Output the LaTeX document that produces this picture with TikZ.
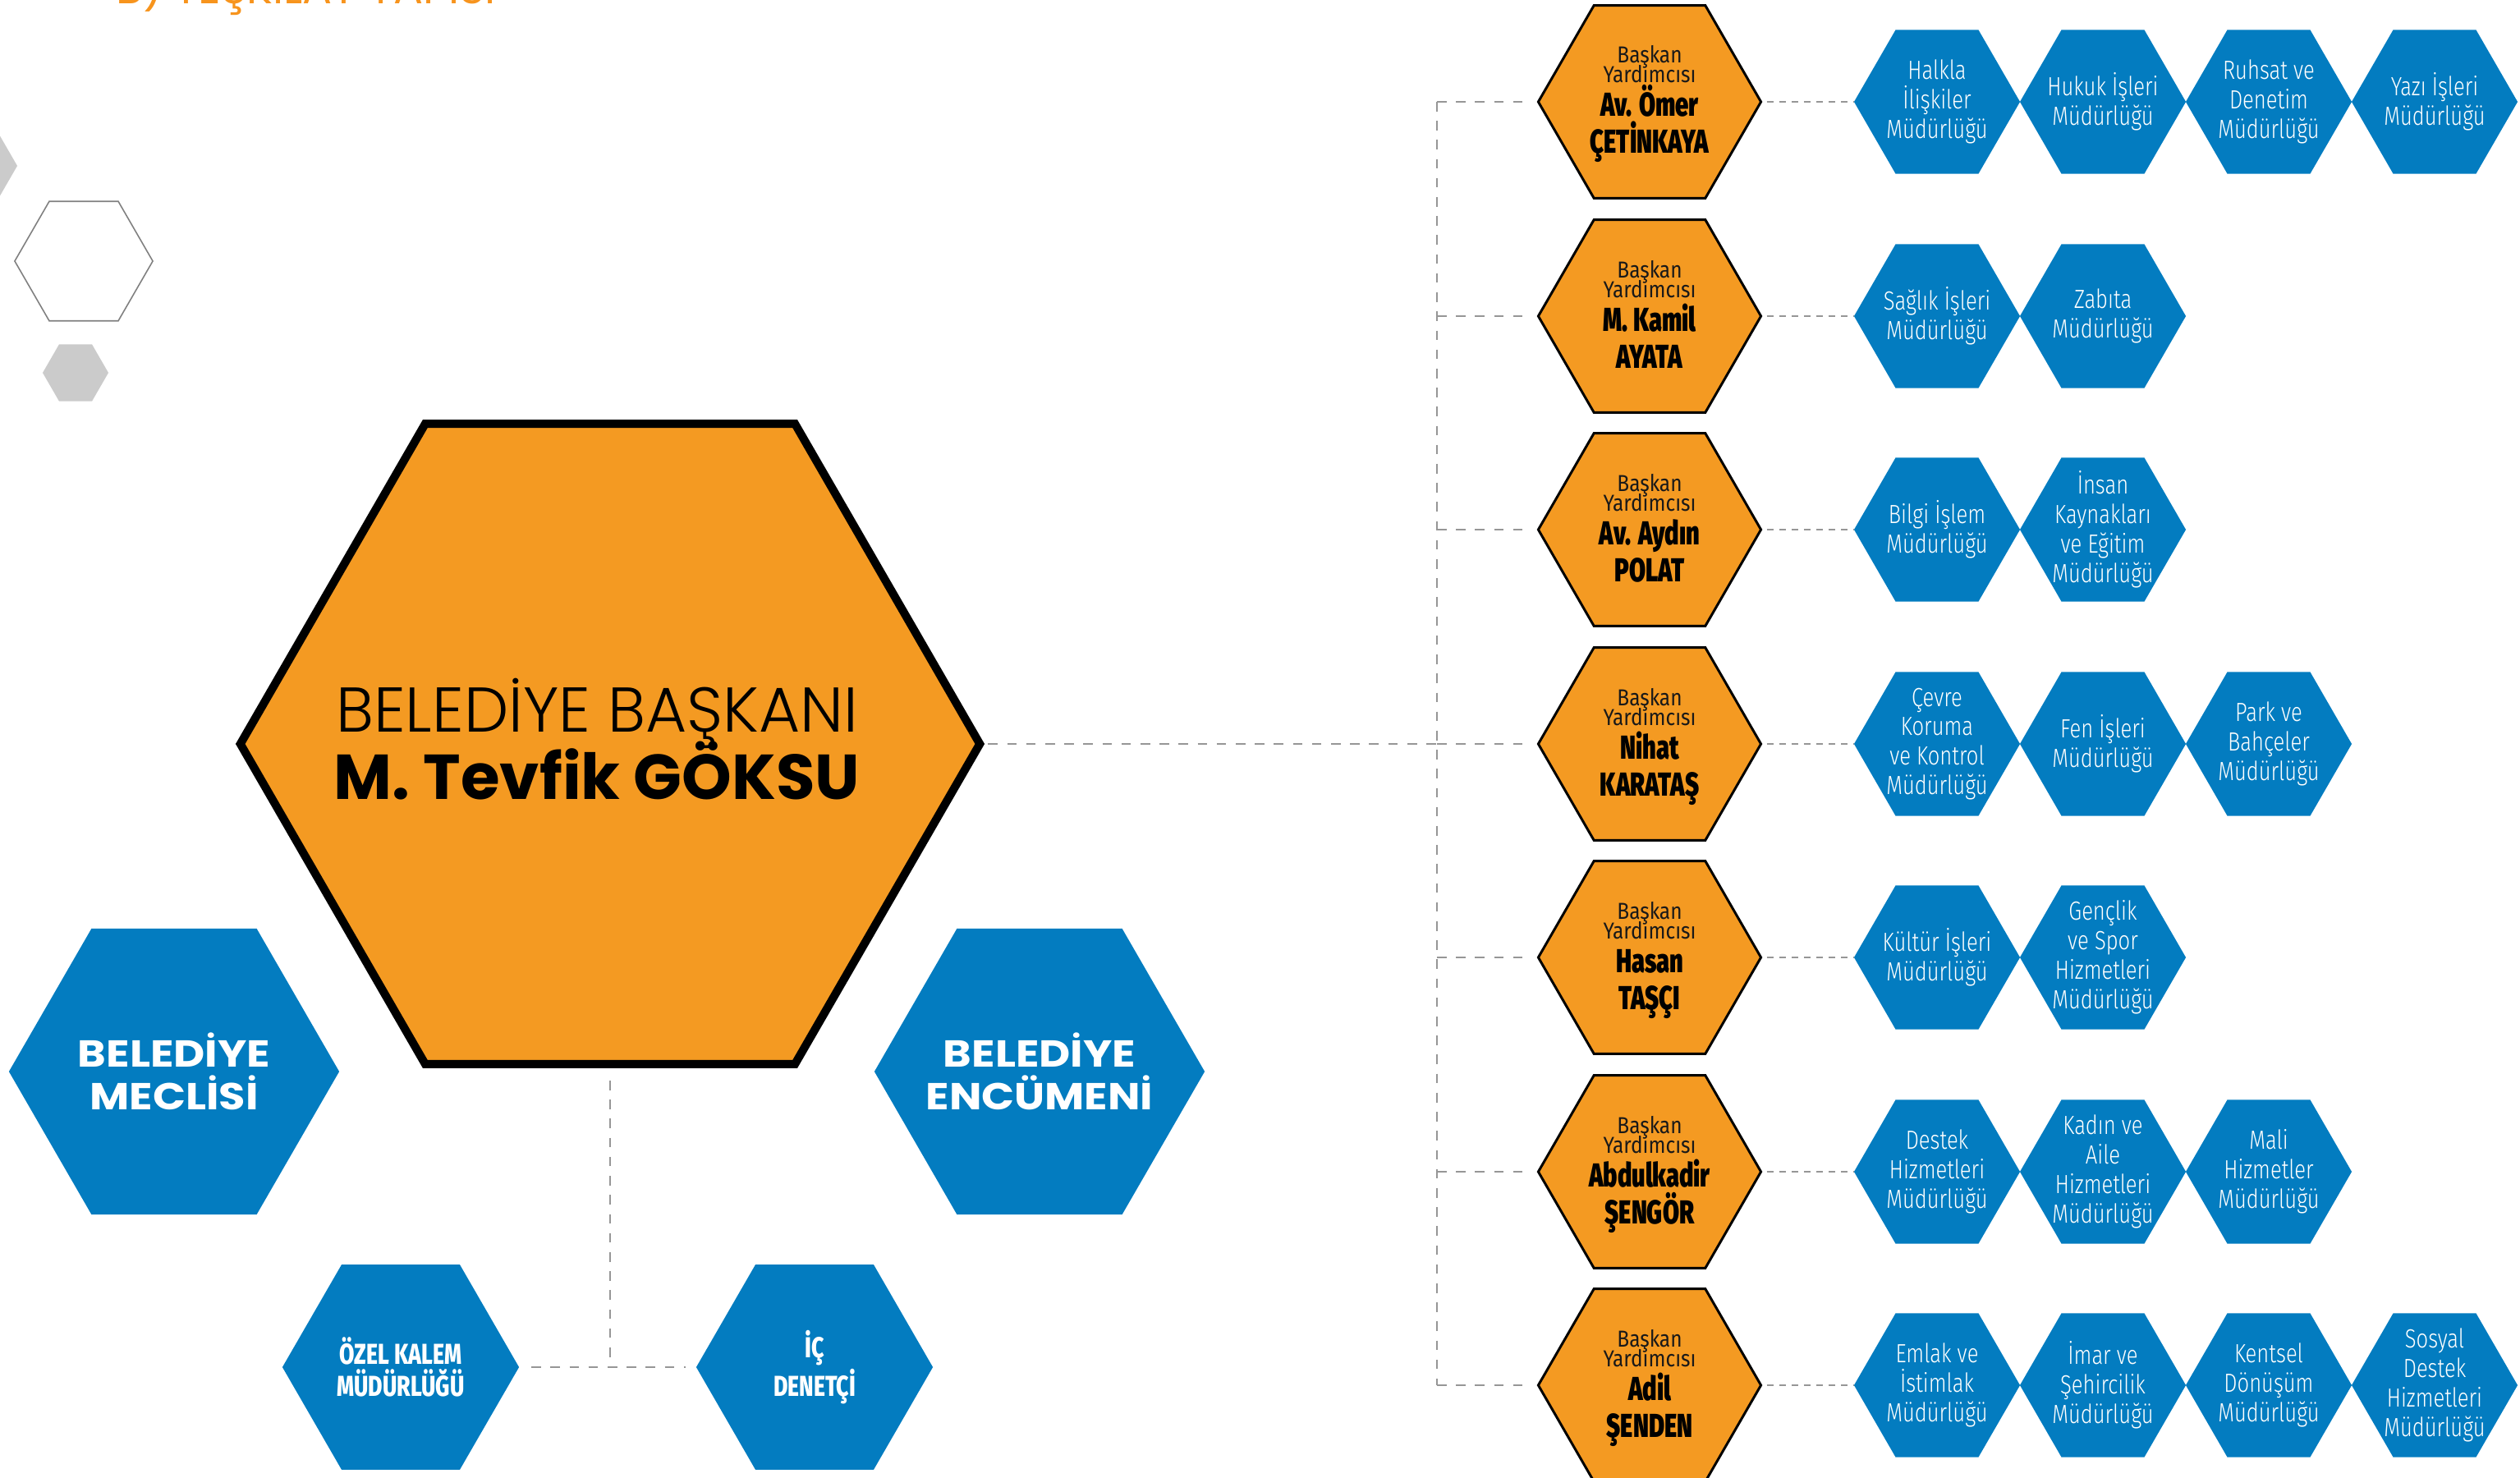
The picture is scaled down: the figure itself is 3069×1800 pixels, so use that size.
\documentclass[tikz,border=0pt]{standalone}
\usepackage{fontspec}
\usepackage{graphicx}
\usetikzlibrary{shapes.geometric}
\setmainfont{Fira Sans}
\newfontfamily\popfont{Poppins}
\newfontfamily\popwide{Poppins}[FakeStretch=1.15]
\IfFontExistsTF{Poppins Light}{\newfontfamily\poplight{Poppins Light}}{\newfontfamily\poplight{Poppins}}
\IfFontExistsTF{Fira Sans Light}{\newfontfamily\deptfont{Fira Sans Light}[FakeStretch=0.8]}{\newfontfamily\deptfont{Fira Sans}[FakeStretch=0.8]}
\IfFontExistsTF{Fira Sans Black}{\newfontfamily\namefont{Fira Sans Black}[FakeStretch=0.72]}{%
  \IfFontExistsTF{Fira Sans ExtraBold}{\newfontfamily\namefont{Fira Sans ExtraBold}[FakeStretch=0.74]}{\newfontfamily\namefont{Fira Sans Bold}[FakeStretch=0.74]}}
\IfFontExistsTF{Fira Sans ExtraBold}{\newfontfamily\kalemfont{Fira Sans ExtraBold}[FakeStretch=0.76]}{\newfontfamily\kalemfont{Fira Sans Bold}[FakeStretch=0.78]}
\newfontfamily\smallfont{Fira Sans}[FakeStretch=0.87]
\definecolor{vorange}{RGB}{244,154,34}
\definecolor{dblue}{RGB}{3,124,192}
\definecolor{dashgray}{RGB}{150,150,150}
\definecolor{decofill}{RGB}{203,203,203}
\definecolor{decoline}{RGB}{128,128,128}
\definecolor{titleorange}{RGB}{247,148,29}
\newcommand\vicehexnode[4]{%
  \node[vicehex] (#1) at (2009,#2) {};
  \node[vsmall] at (2009,{#2-47}) {Başkan};
  \node[vsmall] at (2009,{#2-23}) {Yardımcısı};
  \node[vname] at (2009,{#2+18}) {#3};
  \node[vname] at (2009,{#2+63}) {#4};
}
\newcommand\deptnode[4]{%
  \node[depthex] (#1) at (#2,#3) {};
  \node[depttext] at (#1) {#4};
}
\begin{document}
\begin{tikzpicture}[x=0.01cm,y=-0.01cm,
  hexa/.style={regular polygon, regular polygon sides=6, inner sep=0pt, outer sep=0pt},
  mayorhex/.style={hexa, minimum size=9cm, fill=vorange, draw=black, line width=2.85pt},
  vicehex/.style={hexa, minimum size=2.71cm, fill=vorange, draw=black, line width=0.85pt},
  depthex/.style={hexa, minimum size=2.02cm, fill=dblue},
  bluehex/.style={hexa, fill=dblue},
  depttext/.style={text=white, align=center, inner sep=0pt, font=\deptfont\fontsize{9.1pt}{10.2pt}\selectfont},
  vsmall/.style={anchor=base, inner sep=0pt, text=black!90, font=\smallfont\fontsize{8pt}{8pt}\selectfont},
  vname/.style={anchor=base, inner sep=0pt, text=black, font=\namefont\fontsize{11.5pt}{11.5pt}\selectfont},
  bigbluetext/.style={text=white, align=center, inner sep=0pt, font=\popwide\bfseries\fontsize{13pt}{14.8pt}\selectfont},
  smallbluetext/.style={text=white, align=center, inner sep=0pt, font=\kalemfont\fontsize{10pt}{11.1pt}\selectfont},
  trunkline/.style={draw=dashgray, line width=0.57pt, dash pattern=on 3.3pt off 3.3pt},
  deptline/.style={draw=dashgray, line width=0.57pt, dash pattern=on 2.3pt off 2pt},
]
\useasboundingbox (0,0) rectangle (3069,1800);
\clip (0,0) rectangle (3069,1800);

% decorative hexagons
\node[hexa, minimum size=1.68cm, draw=decoline, line width=0.45pt] (deco1) at (102,318) {};
\node[hexa, minimum size=0.8cm, fill=decofill] (deco2) at (92,454) {};
\node[hexa, minimum size=1.0cm, fill=decofill] (deco3) at (-29,202) {};

% title (cut off at top, as in the reference)
\node[anchor=base west, inner sep=0pt, text=titleorange] (title) at (141,5) {\resizebox{4.62cm}{!}{\popfont B) TEŞKİLAT YAPISI}};

% mayor
\node[mayorhex] (mayor) at (743,906) {};
\node[anchor=base, inner sep=0pt] (mayorT1) at (727,891) {\resizebox{6.35cm}{!}{\poplight BELEDİYE BAŞKANI}};
\node[anchor=base, inner sep=0pt] (mayorT2) at (727,973) {\resizebox{6.4cm}{!}{\popfont\bfseries M. Tevfik GÖKSU}};

% council hexes
\node[bluehex, minimum size=4.02cm] (meclis) at (212,1305) {};
\node[bigbluetext] at (meclis) {BELEDİYE\\MECLİSİ};
\node[bluehex, minimum size=4.02cm] (encumen) at (1266,1305) {};
\node[bigbluetext] at (encumen) {BELEDİYE\\ENCÜMENİ};
\node[bluehex, minimum size=2.88cm] (ozel) at (488,1665) {};
\node[smallbluetext] at (ozel) {ÖZEL KALEM\\MÜDÜRLÜĞÜ};
\node[bluehex, minimum size=2.88cm] (ic) at (992,1665) {};
\node[smallbluetext] at (ic) {İÇ\\DENETÇİ};

% vice mayors
\vicehexnode{v1}{124}{Av. Ömer}{ÇETİNKAYA}
\vicehexnode{v2}{385}{M. Kamil}{AYATA}
\vicehexnode{v3}{645}{Av. Aydın}{POLAT}
\vicehexnode{v4}{906}{Nihat}{KARATAŞ}
\vicehexnode{v5}{1166}{Hasan}{TAŞÇI}
\vicehexnode{v6}{1427}{Abdulkadir}{ŞENGÖR}
\vicehexnode{v7}{1687}{Adil}{ŞENDEN}

% departments
\deptnode{d11}{2359}{124}{Halkla\\İlişkiler\\Müdürlüğü}
\deptnode{d12}{2561}{124}{Hukuk İşleri\\Müdürlüğü}
\deptnode{d13}{2763}{124}{Ruhsat ve\\Denetim\\Müdürlüğü}
\deptnode{d14}{2965}{124}{Yazı İşleri\\Müdürlüğü}
\deptnode{d21}{2359}{385}{Sağlık İşleri\\Müdürlüğü}
\deptnode{d22}{2561}{385}{Zabıta\\Müdürlüğü}
\deptnode{d31}{2359}{645}{Bilgi İşlem\\Müdürlüğü}
\deptnode{d32}{2561}{645}{İnsan\\Kaynakları\\ve Eğitim\\Müdürlüğü}
\deptnode{d41}{2359}{906}{Çevre\\Koruma\\ve Kontrol\\Müdürlüğü}
\deptnode{d42}{2561}{906}{Fen İşleri\\Müdürlüğü}
\deptnode{d43}{2763}{906}{Park ve\\Bahçeler\\Müdürlüğü}
\deptnode{d51}{2359}{1166}{Kültür İşleri\\Müdürlüğü}
\deptnode{d52}{2561}{1166}{Gençlik\\ve Spor\\Hizmetleri\\Müdürlüğü}
\deptnode{d61}{2359}{1427}{Destek\\Hizmetleri\\Müdürlüğü}
\deptnode{d62}{2561}{1427}{Kadın ve\\Aile\\Hizmetleri\\Müdürlüğü}
\deptnode{d63}{2763}{1427}{Mali\\Hizmetler\\Müdürlüğü}
\deptnode{d71}{2359}{1687}{Emlak ve\\İstimlak\\Müdürlüğü}
\deptnode{d72}{2561}{1687}{İmar ve\\Şehircilik\\Müdürlüğü}
\deptnode{d73}{2763}{1687}{Kentsel\\Dönüşüm\\Müdürlüğü}
\deptnode{d74}{2965}{1687}{Sosyal\\Destek\\Hizmetleri\\Müdürlüğü}

% connectors
\coordinate (ttop) at (1750,124);
\coordinate (tbot) at (1750,1687);
\draw[trunkline] (ttop) -- (tbot);
\draw[trunkline, shorten <=0.1cm] (mayor.east) -- (mayor.east -| ttop);
\foreach \v in {v1,v2,v3,v4,v5,v6,v7}{
  \draw[trunkline, shorten >=0.15cm] (\v.west -| ttop) -- (\v.west);
  \draw[deptline, shorten <=0.07cm] (\v.east) -- (\v.east -| d11.west);
}
\coordinate (bj) at (mayor.south |- ozel.east);
\draw[trunkline, shorten <=0.2cm] (mayor.south) -- (bj);
\draw[trunkline, shorten <=0.15cm, shorten >=0.13cm] (ozel.east) -- (ic.west);
\end{tikzpicture}
\end{document}
